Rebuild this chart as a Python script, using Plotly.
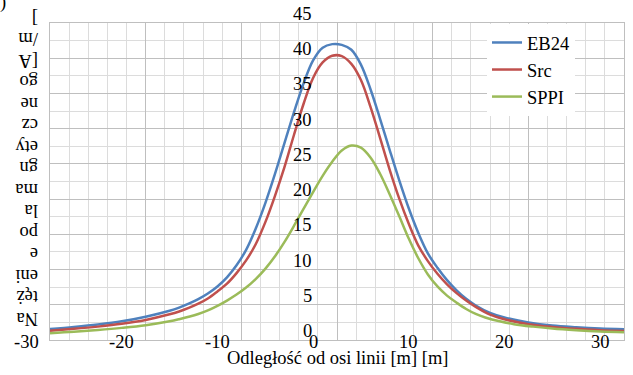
import plotly.graph_objects as go

# ---------------- data ----------------
x_eb24 = [-27.5, -25, -22.5, -20, -17.5, -15, -14, -13, -12, -11, -10, -9, -8, -7, -6, -5,
          -4, -3, -2, -1, 0, 1, 2, 3, 4, 5, 6, 7, 8, 9, 10, 11, 12, 13, 14, 15, 16, 17,
          18.5, 20, 22.5, 25, 27.5, 30, 32.5]
eb24 = [1.55, 1.85, 2.2, 2.65, 3.3, 4.15, 4.6, 5.15, 5.8, 6.6, 7.6, 8.9, 10.6, 12.8, 15.8, 19.4,
        23.5, 27.9, 32.3, 36.4, 39.7, 41.5, 42.0, 41.9, 41.2, 39.1, 35.6, 31.4, 27.0, 22.7,
        18.7, 15.2, 12.3, 10.25, 8.5, 7.05, 5.85, 4.9, 3.85, 3.2, 2.5, 2.05, 1.8, 1.62, 1.52]

x_src = [-27.5, -25, -22.5, -20, -17.5, -15, -14, -13, -12, -11, -10, -9, -8, -7, -6, -5,
         -4, -3, -2, -1, 0, 1, 2, 3, 4, 5, 6, 7, 8, 9, 10, 11, 12, 13, 14, 15, 16, 17,
         18.5, 20, 22.5, 25, 27.5, 30, 32.5]
src = [1.3, 1.58, 1.9, 2.3, 2.85, 3.65, 4.05, 4.55, 5.15, 5.9, 6.9, 8.0, 9.5, 11.3, 13.6, 16.7,
       20.4, 24.5, 29.1, 33.5, 37.2, 39.4, 40.35, 40.3, 39.2, 36.9, 33.1, 28.7, 24.2, 20.1,
       16.5, 13.4, 11.2, 9.4, 7.9, 6.65, 5.6, 4.7, 3.6, 2.95, 2.25, 1.85, 1.58, 1.4, 1.28]

x_sppi = [-27.5, -25, -22.5, -20, -17.5, -15, -14, -13, -12, -11, -10, -9, -8, -7, -6, -5,
          -4, -3, -2, -1, 0, 1, 2, 3, 4, 5, 6, 7, 8, 9, 10, 11, 12, 13, 14, 15, 16, 17, 18,
          19.5, 21, 23, 25, 27.5, 30, 32.5]
sppi = [0.97, 1.17, 1.42, 1.72, 2.1, 2.65, 2.95, 3.3, 3.7, 4.2, 4.85, 5.6, 6.45, 7.45, 8.65,
        10.1, 11.85, 13.9, 16.2, 18.6, 21.0, 23.3, 25.3, 26.9, 27.6, 27.3, 25.9, 23.6, 20.7,
        17.6, 14.4, 11.6, 9.3, 7.6, 6.3, 5.3, 4.4, 3.7, 3.2, 2.65, 2.25, 1.9, 1.62, 1.38,
        1.2, 1.09]

series_names = ["EB24", "Src", "SPPI"]
series_colors = ["#4F81BD", "#C0504D", "#9BBB59"]

x_range = [-27.5, 32.5]
y_range = [0, 45]
x_tick_labels = [-30, -20, -10, 0, 10, 20, 30]
y_tick_labels = [0, 5, 10, 15, 20, 25, 30, 35, 40, 45]
y_title_lines = ["Na", "tęż", "eni", "e", "po", "la", "ma", "gn", "ety", "cz", "ne", "go",
                 "[A", "/m", "]"]
x_title = "Odległość od osi linii [m] [m]"

# ---------------- layout constants ----------------
W, H = 633, 375
ML, MR, MT, MB = 50, 9, 23, 35
PW, PH = W - ML - MR, H - MT - MB
FONT = "Liberation Serif, Times New Roman, serif"
FS = 18.5
MAJOR = "#BFBFBF"
MINOR = "#DCDCDC"

fig = go.Figure()
for xs, ys, name, col in zip([x_eb24, x_src, x_sppi], [eb24, src, sppi],
                             series_names, series_colors):
    fig.add_trace(go.Scatter(x=xs, y=ys, name=name, mode="lines",
                             line=dict(color=col, width=2.5, shape="spline", smoothing=1.0)))

annotations = []
# x tick labels (positioned along the bottom, straddling the axis line)
for v in x_tick_labels:
    fx = (v - x_range[0]) / (x_range[1] - x_range[0])
    annotations.append(dict(x=fx, xref="paper", y=0, yref="paper", yshift=-2,
                            text=str(v), showarrow=False, xanchor="center", yanchor="middle",
                            font=dict(family=FONT, size=FS, color="#000")))
# y tick labels (drawn at x = 0, slightly above their gridline)
for v in y_tick_labels:
    annotations.append(dict(x=0, xref="x", y=v, yref="y", yshift=9, xshift=1,
                            text=str(v), showarrow=False, xanchor="right", yanchor="middle",
                            font=dict(family=FONT, size=FS, color="#000")))
# x axis title
annotations.append(dict(x=0.5, xref="paper", y=((H - MB) - 358) / PH,
                        yref="paper", text=x_title, showarrow=False,
                        xanchor="center", yanchor="middle",
                        font=dict(family=FONT, size=FS, color="#000")))
# y axis title: broken into short upside-down lines
for i, t in enumerate(y_title_lines):
    py = 319 - 21.5 * i
    annotations.append(dict(x=(40 - ML) / PW, xref="paper", y=((H - MB) - py) / PH,
                            yref="paper", text=t, textangle=180, showarrow=False,
                            xanchor="right", yanchor="middle",
                            font=dict(family=FONT, size=FS, color="#000")))
# clipped fragment in the top-left corner
annotations.append(dict(x=(3 - ML) / PW, xref="paper", y=((H - MB) - 3) / PH, yref="paper",
                        text=")", showarrow=False, xanchor="center", yanchor="middle",
                        font=dict(family=FONT, size=FS, color="#000")))

fig.update_layout(
    width=W, height=H,
    margin=dict(l=ML, r=MR, t=MT, b=MB, pad=0),
    paper_bgcolor="white", plot_bgcolor="white",
    font=dict(family=FONT, size=FS, color="#000"),
    showlegend=True,
    legend=dict(x=(487 - ML) / PW, y=0.997, xanchor="left", yanchor="top",
                bgcolor="white", borderwidth=0, font=dict(family=FONT, size=FS),
                itemwidth=30, tracegroupgap=0),
    annotations=annotations,
)
fig.update_xaxes(range=x_range, showticklabels=False, ticks="", tick0=2.5, dtick=10,
                 showgrid=True, gridcolor=MAJOR, gridwidth=1, zeroline=False,
                 showline=True, linecolor=MAJOR, linewidth=1, mirror=True,
                 minor=dict(tick0=2.5, dtick=2, showgrid=True, gridcolor=MINOR, gridwidth=1))
fig.update_yaxes(range=y_range, showticklabels=False, ticks="", tick0=0, dtick=5,
                 showgrid=True, gridcolor=MAJOR, gridwidth=1, zeroline=False,
                 showline=True, linecolor=MAJOR, linewidth=1, mirror=True,
                 minor=dict(tick0=0, dtick=2.5, showgrid=True, gridcolor=MINOR, gridwidth=1))

fig.write_html("out.html")
